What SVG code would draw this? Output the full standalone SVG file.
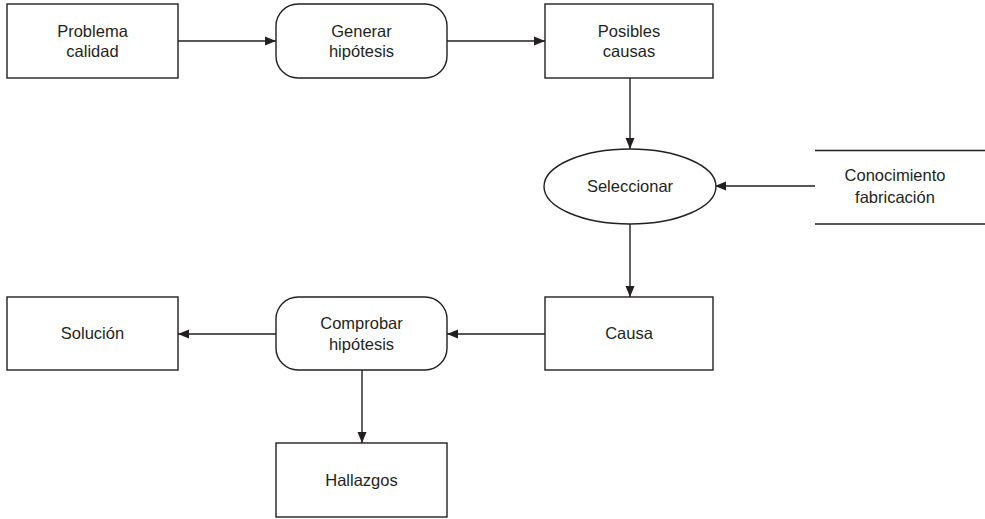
<svg xmlns="http://www.w3.org/2000/svg" width="985" height="519" viewBox="0 0 985 519">
<style>
.box{fill:#fff;stroke:#231f20;stroke-width:1.4}
.ln{fill:none;stroke:#231f20;stroke-width:1.4}
text{font-family:"Liberation Sans",Arial,sans-serif;font-size:16.5px;fill:#231f20;text-anchor:middle}
</style>
<defs>
<marker id="ah" markerWidth="12" markerHeight="10" refX="11" refY="5" orient="auto" markerUnits="userSpaceOnUse">
<path d="M0,0.5 L11,5 L0,9.5 Z" fill="#231f20"/>
</marker>
</defs>
<rect width="985" height="519" fill="#fff"/>
<g id="connectors">
<line class="ln" x1="178" y1="41" x2="276" y2="41" marker-end="url(#ah)"/>
<line class="ln" x1="447" y1="41" x2="545" y2="41" marker-end="url(#ah)"/>
<line class="ln" x1="630" y1="78" x2="630" y2="149" marker-end="url(#ah)"/>
<line class="ln" x1="815" y1="186" x2="715" y2="186" marker-end="url(#ah)"/>
<line class="ln" x1="630" y1="224" x2="630" y2="297" marker-end="url(#ah)"/>
<line class="ln" x1="545" y1="334" x2="447" y2="334" marker-end="url(#ah)"/>
<line class="ln" x1="276" y1="334" x2="178" y2="334" marker-end="url(#ah)"/>
<line class="ln" x1="362" y1="370" x2="362" y2="443" marker-end="url(#ah)"/>
</g>
<g id="problema">
<rect class="box" x="7" y="4" width="171" height="74"/>
<text x="92.5" y="37">Problema</text>
<text x="92.5" y="57">calidad</text>
</g>
<g id="generar">
<rect class="box" x="276" y="4" width="171" height="74" rx="22" ry="22"/>
<text x="361.5" y="37">Generar</text>
<text x="361.5" y="57">hipótesis</text>
</g>
<g id="posibles">
<rect class="box" x="545" y="4" width="168" height="74"/>
<text x="629" y="37">Posibles</text>
<text x="629" y="57">causas</text>
</g>
<g id="seleccionar">
<ellipse class="box" cx="630" cy="186.5" rx="86" ry="37.5"/>
<text x="630" y="192">Seleccionar</text>
</g>
<g id="conocimiento">
<line class="ln" x1="815" y1="150.5" x2="985" y2="150.5"/>
<line class="ln" x1="815" y1="224" x2="985" y2="224"/>
<text x="895" y="181">Conocimiento</text>
<text x="895" y="203">fabricación</text>
</g>
<g id="causa">
<rect class="box" x="545" y="297" width="168" height="73"/>
<text x="629" y="339">Causa</text>
</g>
<g id="comprobar">
<rect class="box" x="276" y="297" width="171" height="73" rx="22" ry="22"/>
<text x="361.5" y="329">Comprobar</text>
<text x="361.5" y="350">hipótesis</text>
</g>
<g id="solucion">
<rect class="box" x="7" y="297" width="171" height="73"/>
<text x="92.5" y="339">Solución</text>
</g>
<g id="hallazgos">
<rect class="box" x="276" y="443" width="171" height="74"/>
<text x="361.5" y="486">Hallazgos</text>
</g>
</svg>
